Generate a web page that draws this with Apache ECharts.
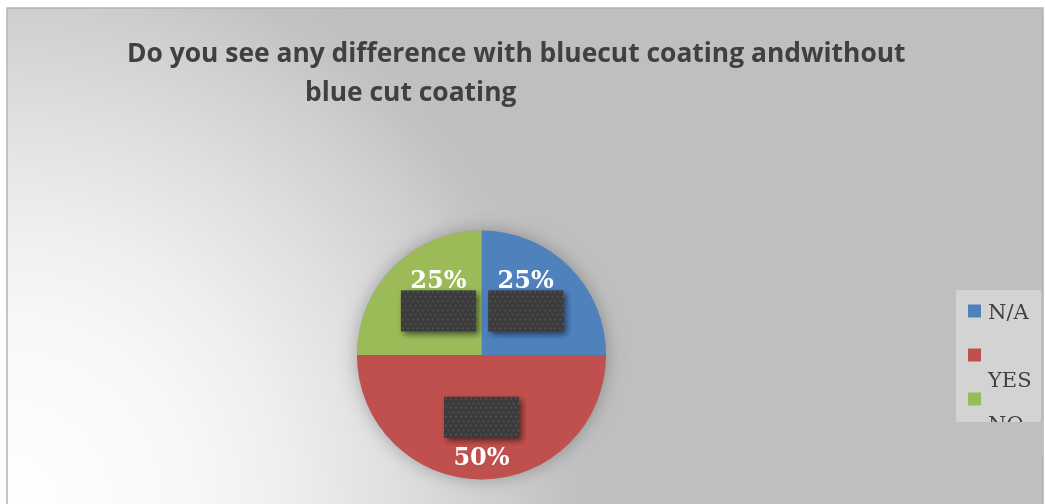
<!DOCTYPE html>
<html>
<head>
<meta charset="utf-8">
<script src="https://cdn.jsdelivr.net/npm/echarts@6/dist/echarts.min.js"></script>
<style>
  html, body { margin: 0; padding: 0; background: #ffffff; }
  #chart { width: 1045px; height: 504px; }
</style>
</head>
<body>
<div id="chart"></div>
<script>
// Survey answers: share of respondents per answer (percent)
const categories = ['N/A', 'YES', 'NO'];
const shares = [25, 50, 25];
const sliceColors = ['#4F81BD', '#C0504D', '#9BBB59'];
const titleLines = [
  'Do you see any difference with bluecut coating andwithout',
  'blue cut coating'
];

// Label placement tweaks per answer (text above or below its dark tag)
const labelOffsets = { 'N/A': [-2, 1.5], 'YES': [0, 10], 'NO': [3, 1.5] };
const tagBelowText = { 'N/A': true, 'YES': false, 'NO': true };

// Dark textured tag with a soft drop shadow, used behind each label
function makeTag() {
  const w = 75, h = 41, m = 8;
  const c = document.createElement('canvas');
  c.width = w + 2 * m;
  c.height = h + 2 * m;
  const ctx = c.getContext('2d');
  ctx.save();
  ctx.shadowColor = 'rgba(0,0,0,0.55)';
  ctx.shadowBlur = 6;
  ctx.shadowOffsetX = 3;
  ctx.shadowOffsetY = 3;
  ctx.fillStyle = '#3b3b3b';
  ctx.fillRect(m, m, w, h);
  ctx.restore();
  ctx.fillStyle = 'rgba(255,255,255,0.13)';
  let row = 0;
  for (let y = m + 2; y < m + h; y += 4.5, row++) {
    for (let x = m + 2 + (row % 2) * 2.5; x < m + w; x += 5) {
      ctx.beginPath();
      ctx.arc(x, y, 1.1, 0, Math.PI * 2);
      ctx.fill();
    }
  }
  return c;
}
const tagImage = makeTag();

const chart = echarts.init(document.getElementById('chart'), null, { renderer: 'canvas' });

const pieData = categories.map((name, i) => ({
  name: name,
  value: shares[i],
  itemStyle: { color: sliceColors[i] },
  label: { offset: labelOffsets[name] }
}));

const legendText = { fontFamily: 'DejaVu Serif', fontSize: 21, color: '#404040', lineHeight: 22 };
const legendBase = {
  orient: 'vertical',
  left: 968,
  padding: 0,
  itemWidth: 13,
  itemHeight: 13,
  icon: 'rect',
  selectedMode: false,
  z: 5,
  textStyle: Object.assign({}, legendText, {
    rich: {
      a: Object.assign({}, legendText, { padding: [6, 0, 0, 2] }),
      p: Object.assign({}, legendText, { padding: [54, 0, 0, 2] })
    }
  })
};

const titleText = { fontFamily: 'Open Sans', fontWeight: 'bold', fontSize: 26.4, color: '#404040', lineHeight: 30 };

const option = {
  animation: false,
  title: [
    { text: titleLines[0], left: 127, top: 39, padding: 0, textStyle: titleText },
    { text: titleLines[1], left: 305, top: 78, padding: 0, textStyle: titleText }
  ],
  legend: [
    Object.assign({}, legendBase, { data: [categories[0]], top: 297.5, formatter: '{a|{name}}' }),
    Object.assign({}, legendBase, { data: [categories[1]], top: 317.5, formatter: '{p|{name}}' }),
    Object.assign({}, legendBase, { data: [categories[2]], top: 361.5, formatter: '{p|{name}}' })
  ],
  graphic: [
    {
      // chart area with light corner fading to grey
      type: 'rect', z: -10, silent: true,
      shape: { x: 7, y: 8, width: 1036, height: 500 },
      style: {
        fill: new echarts.graphic.RadialGradient(7, 504, 600, [
          { offset: 0, color: '#ffffff' },
          { offset: 0.3, color: '#f8f8f8' },
          { offset: 0.46, color: '#efefef' },
          { offset: 0.64, color: '#e0e0e0' },
          { offset: 0.83, color: '#cecece' },
          { offset: 0.93, color: '#c2c2c2' },
          { offset: 1, color: '#bfbfbf' }
        ], true),
        stroke: '#b4b4b4',
        lineWidth: 1.5
      }
    },
    {
      // legend panel
      type: 'rect', z: 1, silent: true,
      shape: { x: 956, y: 290, width: 85, height: 132 },
      style: { fill: '#d3d3d3' }
    },
    {
      // legend panel cuts off its last entry
      type: 'rect', z: 50, silent: true,
      shape: { x: 950, y: 422, width: 93, height: 30 },
      style: { fill: '#bfbfbf' }
    }
  ],
  series: [
    {
      type: 'pie',
      center: [481.5, 355],
      radius: 124.5,
      startAngle: 90,
      clockwise: true,
      z: 3,
      silent: true,
      avoidLabelOverlap: false,
      labelLayout: { hideOverlap: false },
      data: pieData,
      itemStyle: { borderWidth: 0 },
      labelLine: { show: false },
      label: {
        show: true,
        position: 'inside',
        formatter: function (p) {
          const pct = Math.round(p.percent) + '%';
          return tagBelowText[p.name]
            ? '{v|' + pct + '}\n{box|}'
            : '{box|}\n{w|' + pct + '}';
        },
        rich: {
          v: { fontFamily: 'DejaVu Serif', fontWeight: 'bold', fontSize: 24, color: '#ffffff', lineHeight: 1 },
          w: { fontFamily: 'DejaVu Serif', fontWeight: 'bold', fontSize: 24, color: '#ffffff', lineHeight: 26 },
          box: { width: 91, height: 57, backgroundColor: { image: tagImage } }
        }
      }
    },
    {
      // soft halo beneath the pie
      type: 'pie',
      center: [481.5, 355],
      radius: 124.5,
      startAngle: 90,
      z: 1,
      silent: true,
      data: pieData.map(d => ({ name: d.name, value: d.value })),
      itemStyle: { color: '#9a9a9a', shadowBlur: 18, shadowColor: 'rgba(0,0,0,0.28)' },
      label: { show: false },
      labelLine: { show: false }
    }
  ]
};

chart.setOption(option);
</script>
</body>
</html>
